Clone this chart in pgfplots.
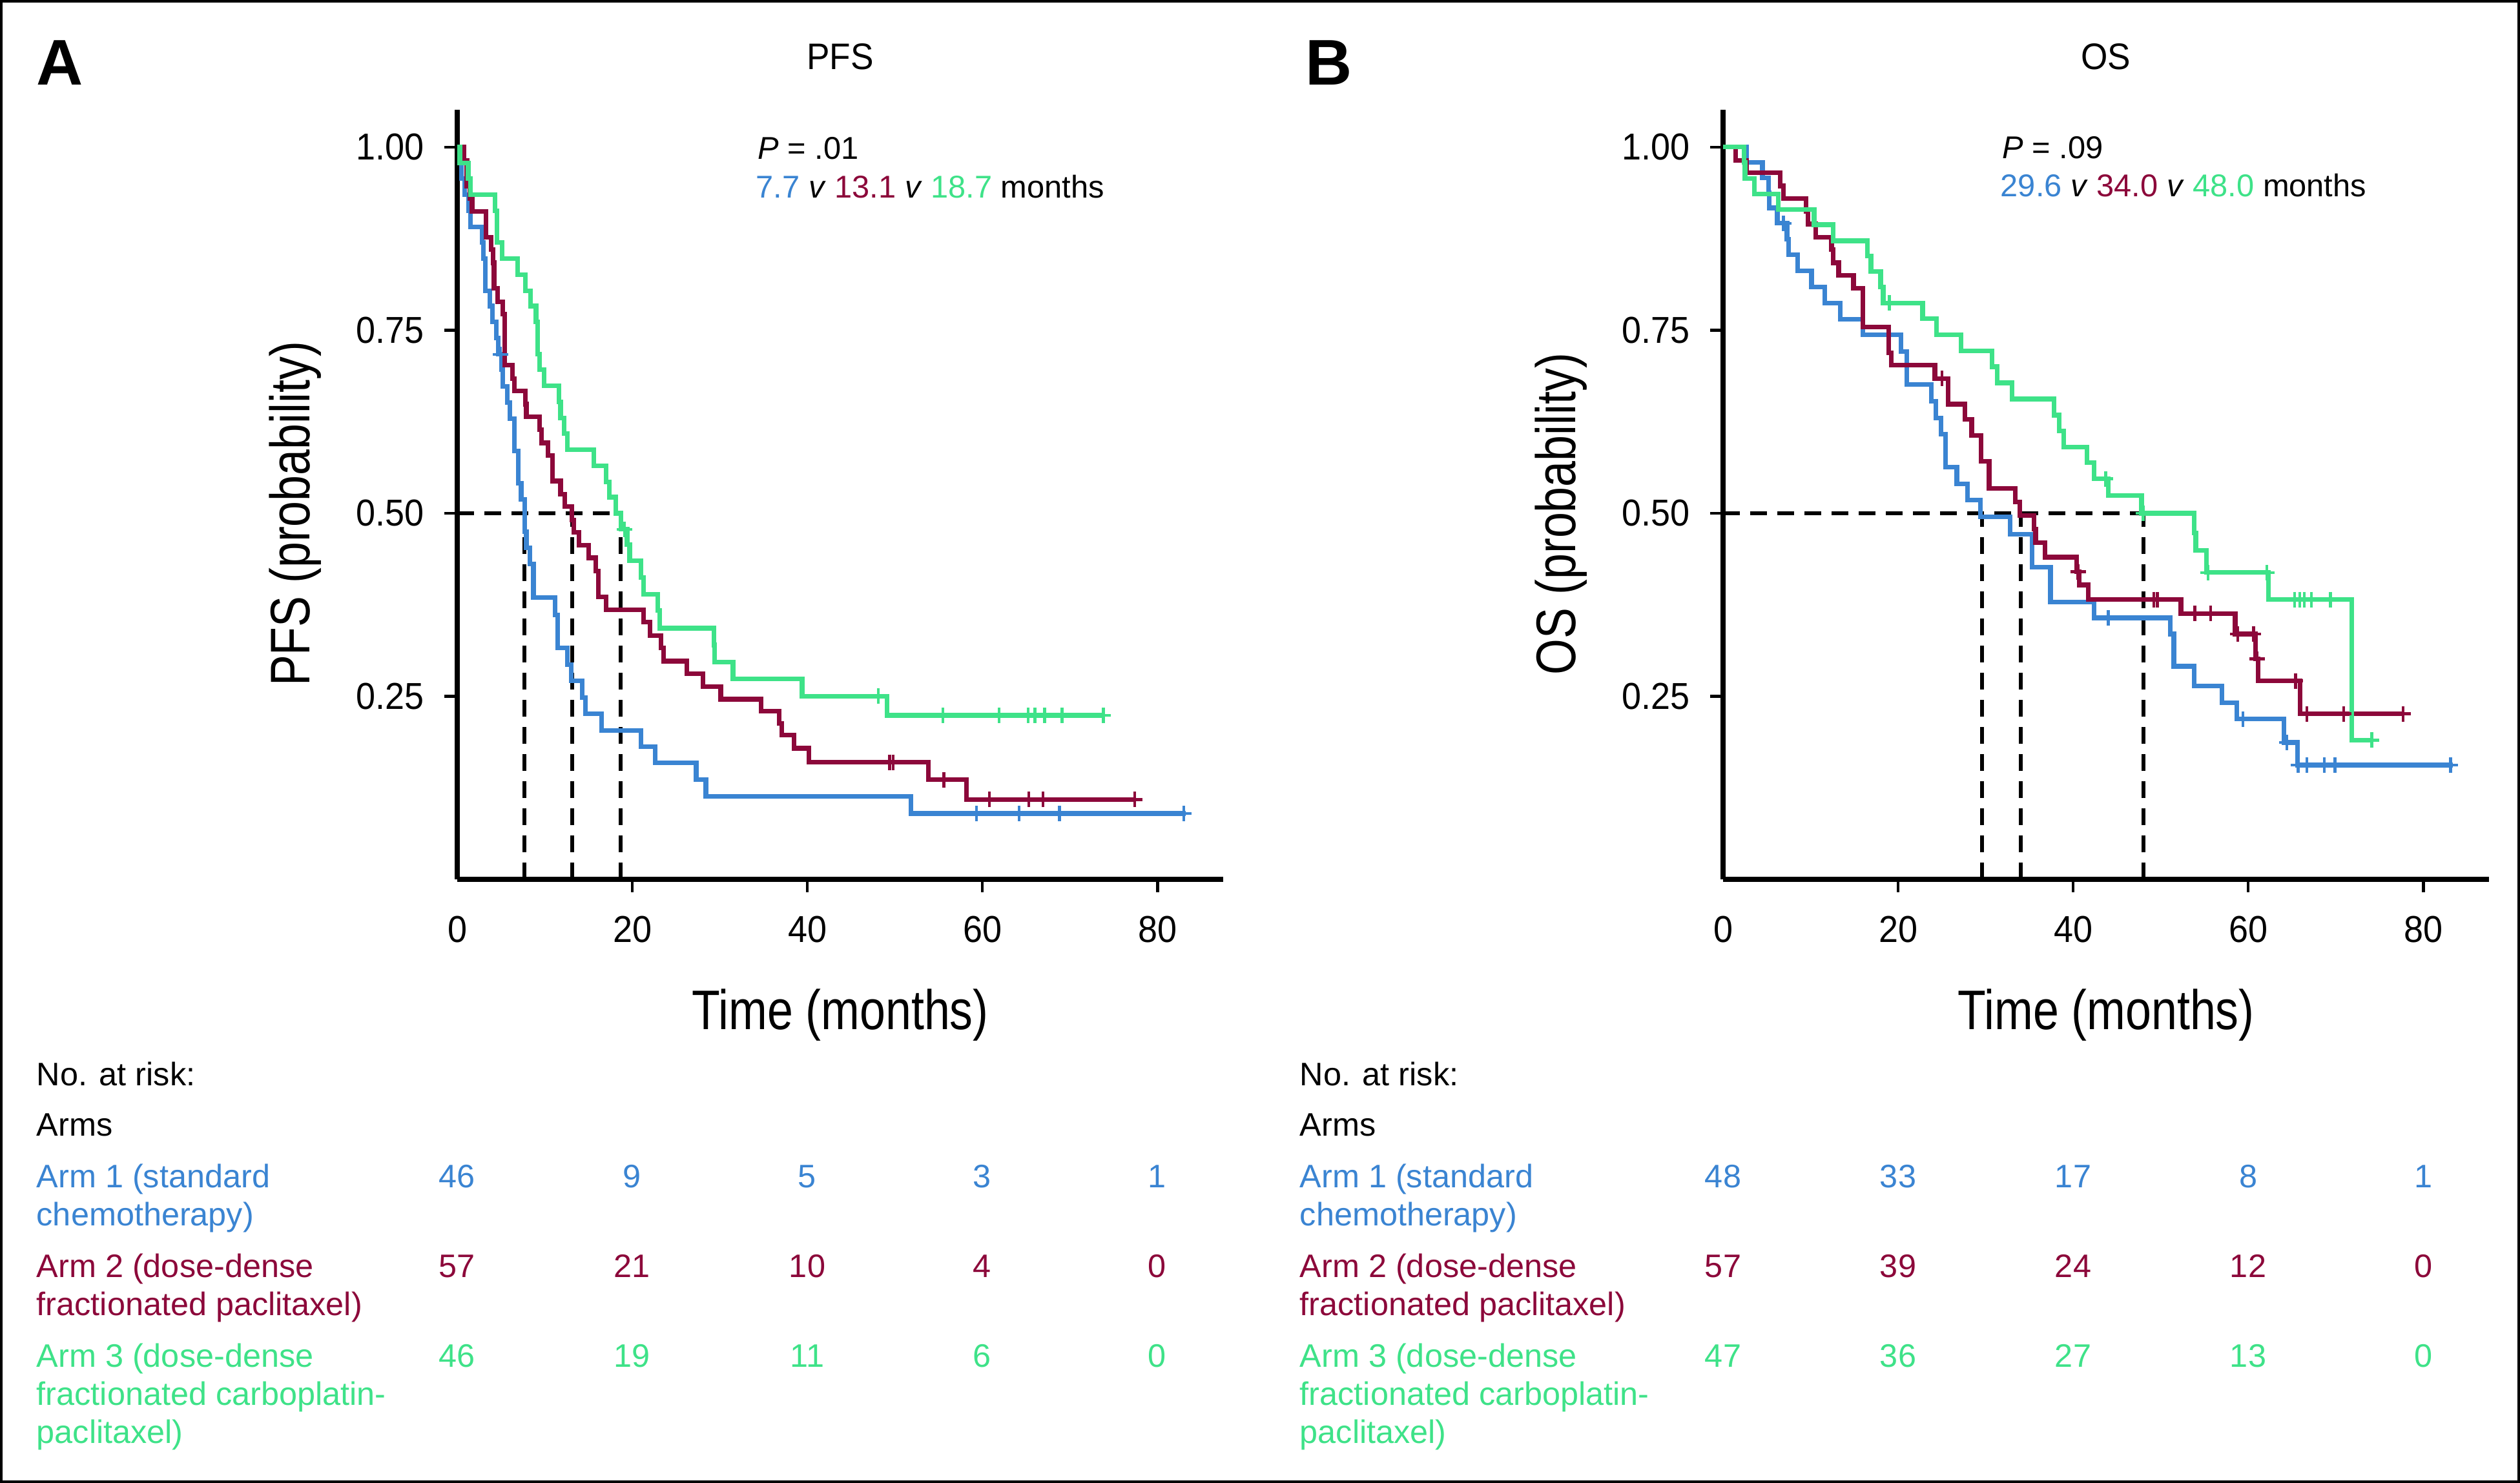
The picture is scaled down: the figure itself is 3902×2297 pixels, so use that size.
\documentclass[border=0pt]{standalone}
\usepackage{fontspec}
\setmainfont{Liberation Sans}
\newfontfamily\narrowfont[FakeStretch=0.83]{Liberation Sans}
\newfontfamily\tickfont[FakeStretch=0.93]{Liberation Sans}
\usepackage{pgfplots}
\pgfplotsset{compat=1.18}
\definecolor{armblue}{RGB}{58,132,210}
\definecolor{armred}{RGB}{140,8,58}
\definecolor{armgreen}{RGB}{62,226,136}
\pgfplotsset{
  kmaxis/.style={
    scale only axis, width=296.5pt, height=298pt,
    xmin=0, xmax=87.5, ymin=0, ymax=1.051,
    axis lines=left, axis line style={line width=2.1pt, -},
    xtick={20,40,60,80}, xticklabels={20,40,60,80},
    extra x ticks={0}, extra x tick labels={0},
    extra x tick style={major tick length=0pt, tick label style={yshift=-5pt}},
    ytick={0.25,0.5,0.75,1}, yticklabels={0.25,0.50,0.75,1.00},
    tick align=outside, major tick length=5pt,
    tick style={black, line width=1.1pt},
    tick label style={font=\tickfont\fontsize{14.5}{17}\selectfont, inner sep=0pt},
    xticklabel style={yshift=-9pt},
    yticklabel style={xshift=-7.75pt},
    clip=false,
  },
  km/.style={const plot, line width=1.8pt, no marks},
  cens/.style={only marks, mark=+, mark size=3pt, mark options={line width=1.1pt}},
  med/.style={black, line width=1.5pt, dash pattern=on 6.5pt off 4pt, no marks},
}
\begin{document}
\begin{tikzpicture}
\begin{scope}[x=0.25pt,y=-0.25pt]
\useasboundingbox (0,0) rectangle (3902,2297);
\draw[line width=1pt] (2,2) rectangle (3900,2295);
\end{scope}

% ---------------- Panel A: PFS ----------------
\begin{axis}[kmaxis, at={(177pt,-340.5pt)}, anchor=south west]
\addplot[med] coordinates {(0,0.5) (18.7,0.5)};
\addplot[med] coordinates {(7.7,0) (7.7,0.5)};
\addplot[med] coordinates {(13.1,0) (13.1,0.5)};
\addplot[med] coordinates {(18.7,0) (18.7,0.5)};
% Arm 1
\addplot[km, armblue] coordinates {
(0,1) (0.4,0.978) (0.5,0.957) (0.85,0.935) (1.3,0.913) (1.5,0.891) (2.85,0.870)
(3.0,0.848) (3.2,0.804) (3.7,0.783) (4.0,0.761) (4.45,0.739) (4.7,0.717)
(5.05,0.696) (5.2,0.673) (5.7,0.651) (6.0,0.629) (6.5,0.585) (7.0,0.541)
(7.3,0.519) (7.7,0.475) (7.9,0.453) (8.3,0.431) (8.7,0.385) (11.2,0.361)
(11.45,0.316) (12.6,0.293) (13.05,0.271) (14.3,0.248) (14.65,0.226) (16.5,0.203)
(21.0,0.181) (22.6,0.159) (27.3,0.136) (28.4,0.113) (51.8,0.090) (83.2,0.090)};
\addplot[cens, armblue] coordinates {(4.95,0.717) (59.3,0.090) (64.2,0.090) (68.8,0.090) (83.0,0.090)};
% Arm 2
\addplot[km, armred] coordinates {
(0,1) (0.8,0.982) (1.1,0.947) (1.45,0.930) (1.7,0.912) (3.3,0.877) (3.85,0.860)
(4.1,0.842) (4.2,0.807) (4.6,0.789) (5.2,0.772) (5.4,0.702) (6.3,0.684)
(6.5,0.667) (7.8,0.649) (7.9,0.632) (9.4,0.614) (9.6,0.596) (10.35,0.579)
(10.9,0.544) (11.8,0.526) (12.3,0.509) (13.1,0.491) (13.3,0.474) (13.9,0.456)
(15.0,0.439) (15.8,0.421) (16.1,0.386) (17.0,0.368) (21.3,0.351) (22.0,0.333)
(23.3,0.316) (23.6,0.298) (26.2,0.281) (28.1,0.263) (30.1,0.246) (34.7,0.230)
(36.8,0.213) (37.1,0.197) (38.5,0.179) (40.2,0.160) (53.8,0.136) (58.2,0.109)
(77.4,0.109)};
\addplot[cens, armred] coordinates {(49.4,0.160) (49.8,0.160) (55.6,0.136) (60.8,0.109) (65.3,0.109) (66.9,0.109) (77.4,0.109)};
% Arm 3
\addplot[km, armgreen] coordinates {
(0,1) (0.3,0.978) (1.25,0.957) (1.5,0.935) (4.3,0.913) (4.55,0.870) (5.1,0.848)
(6.9,0.826) (7.8,0.804) (8.4,0.783) (9.0,0.761) (9.2,0.717) (9.4,0.696)
(9.9,0.674) (11.6,0.652) (11.8,0.630) (12.2,0.609) (12.6,0.587) (15.6,0.565)
(17.0,0.543) (17.4,0.522) (18.1,0.500) (18.7,0.478) (19.4,0.457) (19.7,0.435)
(21.0,0.412) (21.3,0.389) (22.9,0.367) (23.1,0.343) (29.3,0.320) (29.4,0.297)
(31.5,0.274) (39.4,0.250) (49.1,0.224) (73.8,0.224)};
\addplot[cens, armgreen] coordinates {(19.1,0.478) (48.1,0.250) (55.5,0.224) (61.9,0.224) (65.2,0.224) (66.0,0.224) (67.1,0.224) (69.1,0.224) (73.8,0.224)};
\end{axis}

% ---------------- Panel B: OS ----------------
\begin{axis}[kmaxis, at={(667pt,-340.5pt)}, anchor=south west]
\addplot[med] coordinates {(0,0.5) (48.0,0.5)};
\addplot[med] coordinates {(29.6,0) (29.6,0.5)};
\addplot[med] coordinates {(34.0,0) (34.0,0.5)};
\addplot[med] coordinates {(48.0,0) (48.0,0.5)};
% Arm 1
\addplot[km, armblue] coordinates {
(0,1) (2.7,0.979) (4.5,0.958) (5.2,0.938) (5.3,0.917) (6.2,0.896) (7.3,0.874)
(7.5,0.853) (8.5,0.831) (10.1,0.809) (11.6,0.787) (13.4,0.765) (16.0,0.744)
(20.3,0.721) (21.0,0.676) (23.8,0.653) (24.3,0.630) (24.9,0.608) (25.4,0.563)
(26.7,0.540) (27.9,0.518) (29.4,0.495) (32.8,0.471) (35.3,0.426) (37.4,0.379)
(42.4,0.357) (51.1,0.335) (51.5,0.291) (53.8,0.264) (57.0,0.241) (58.7,0.219)
(64.1,0.187) (65.6,0.156) (83.4,0.156)};
\addplot[cens, armblue] coordinates {(6.9,0.896) (44.0,0.357) (59.4,0.219) (64.4,0.187) (65.7,0.156) (66.7,0.156) (68.7,0.156) (69.9,0.156) (83.1,0.156)};
% Arm 2
\addplot[km, armred] coordinates {
(0,1) (1.45,0.982) (2.7,0.965) (6.5,0.947) (6.9,0.930) (9.5,0.912) (9.7,0.895)
(10.6,0.877) (12.4,0.860) (12.6,0.842) (13.2,0.825) (14.9,0.807) (16.0,0.754)
(18.9,0.719) (19.2,0.702) (24.2,0.684) (25.7,0.649) (27.6,0.628) (28.4,0.606)
(29.5,0.571) (30.4,0.534) (33.4,0.515) (33.9,0.497) (35.5,0.478) (35.7,0.460)
(36.8,0.440) (40.4,0.420) (40.7,0.402) (41.7,0.382) (52.3,0.363) (58.5,0.335)
(60.8,0.301) (61.1,0.271) (65.9,0.226) (77.7,0.226)};
\addplot[cens, armred] coordinates {(25.0,0.684) (40.55,0.420) (49.2,0.382) (49.6,0.382) (53.9,0.363) (55.7,0.363) (58.8,0.335) (60.6,0.335) (61.0,0.301) (65.4,0.271) (66.7,0.226) (70.9,0.226) (77.7,0.226)};
% Arm 3
\addplot[km, armgreen] coordinates {
(0,1) (2.4,0.979) (2.5,0.957) (3.6,0.936) (6.3,0.915) (10.4,0.894) (12.6,0.872)
(16.5,0.851) (16.9,0.830) (18.0,0.809) (18.3,0.787) (22.8,0.766) (24.4,0.744)
(27.2,0.722) (30.7,0.700) (31.3,0.678) (33.0,0.656) (37.8,0.634) (38.4,0.612)
(38.9,0.590) (41.6,0.569) (42.4,0.547) (44.0,0.524) (47.8,0.500) (53.8,0.473)
(54.0,0.449) (55.2,0.419) (62.3,0.382) (71.8,0.190) (74.1,0.190)};
\addplot[cens, armgreen] coordinates {(19.0,0.787) (43.7,0.547) (48.0,0.500) (55.4,0.419) (62.1,0.419) (65.3,0.382) (65.9,0.382) (66.4,0.382) (67.2,0.382) (69.4,0.382) (74.1,0.190)};
\end{axis}

% ---------------- Text ----------------
\begin{scope}[x=0.25pt,y=-0.25pt, every node/.style={inner sep=0pt}]
\node[anchor=base west, font=\bfseries\fontsize{25}{30}\selectfont] at (56,132) {A};
\node[anchor=base west, font=\bfseries\fontsize{25}{30}\selectfont] at (2021,132) {B};
\node[anchor=base, font=\tickfont\fontsize{14.3}{17}\selectfont] at (1301,108) {PFS};
\node[anchor=base, font=\tickfont\fontsize{14.3}{17}\selectfont] at (3261,108) {OS};
\node[anchor=base west, font=\fontsize{12.2}{14}\selectfont] at (1173,247) {\textit{P} = .01};
\node[anchor=base west, font=\fontsize{12.2}{14}\selectfont] at (1170,307) {\textcolor{armblue}{7.7} \textit{v} \textcolor{armred}{13.1} \textit{v} \textcolor{armgreen}{18.7} months};
\node[anchor=base west, font=\fontsize{12.2}{14}\selectfont] at (3100,246) {\textit{P} = .09};
\node[anchor=base west, font=\fontsize{12.2}{14}\selectfont] at (3097,305) {\textcolor{armblue}{29.6} \textit{v} \textcolor{armred}{34.0} \textit{v} \textcolor{armgreen}{48.0} months};
\node[rotate=90, anchor=base, font=\narrowfont\fontsize{21.6}{26}\selectfont] at (479,796) {PFS (probability)};
\node[rotate=90, anchor=base, font=\narrowfont\fontsize{21.6}{26}\selectfont] at (2439,796) {OS (probability)};
\node[anchor=base, font=\narrowfont\fontsize{21.6}{26}\selectfont] at (1301,1595) {Time (months)};
\node[anchor=base, font=\narrowfont\fontsize{21.6}{26}\selectfont] at (3261,1595) {Time (months)};
% risk table A
\begin{scope}[every node/.append style={font=\fontsize{12.6}{15}\selectfont}]
\node[anchor=base west] at (56,1682) {No. at risk:};
\node[anchor=base west] at (56,1760) {Arms};
\node[anchor=base west, armblue] at (56,1840) {Arm 1 (standard};
\node[anchor=base west, armblue] at (56,1899) {chemotherapy)};
\node[anchor=base west, armred] at (56,1979) {Arm 2 (dose-dense};
\node[anchor=base west, armred] at (56,2038) {fractionated paclitaxel)};
\node[anchor=base west, armgreen] at (56,2118) {Arm 3 (dose-dense};
\node[anchor=base west, armgreen] at (56,2177) {fractionated carboplatin-};
\node[anchor=base west, armgreen] at (56,2236) {paclitaxel)};
\foreach \x/\v in {708/46, 979/9, 1250/5, 1521/3, 1792/1}
  \node[anchor=base, armblue] at (\x,1840) {\v};
\foreach \x/\v in {708/57, 979/21, 1250/10, 1521/4, 1792/0}
  \node[anchor=base, armred] at (\x,1979) {\v};
\foreach \x/\v in {708/46, 979/19, 1250/11, 1521/6, 1792/0}
  \node[anchor=base, armgreen] at (\x,2118) {\v};
% risk table B
\node[anchor=base west] at (2012,1682) {No. at risk:};
\node[anchor=base west] at (2012,1760) {Arms};
\node[anchor=base west, armblue] at (2012,1840) {Arm 1 (standard};
\node[anchor=base west, armblue] at (2012,1899) {chemotherapy)};
\node[anchor=base west, armred] at (2012,1979) {Arm 2 (dose-dense};
\node[anchor=base west, armred] at (2012,2038) {fractionated paclitaxel)};
\node[anchor=base west, armgreen] at (2012,2118) {Arm 3 (dose-dense};
\node[anchor=base west, armgreen] at (2012,2177) {fractionated carboplatin-};
\node[anchor=base west, armgreen] at (2012,2236) {paclitaxel)};
\foreach \x/\v in {2668/48, 2939/33, 3210/17, 3481/8, 3752/1}
  \node[anchor=base, armblue] at (\x,1840) {\v};
\foreach \x/\v in {2668/57, 2939/39, 3210/24, 3481/12, 3752/0}
  \node[anchor=base, armred] at (\x,1979) {\v};
\foreach \x/\v in {2668/47, 2939/36, 3210/27, 3481/13, 3752/0}
  \node[anchor=base, armgreen] at (\x,2118) {\v};
\end{scope}
\end{scope}
\end{tikzpicture}
\end{document}
